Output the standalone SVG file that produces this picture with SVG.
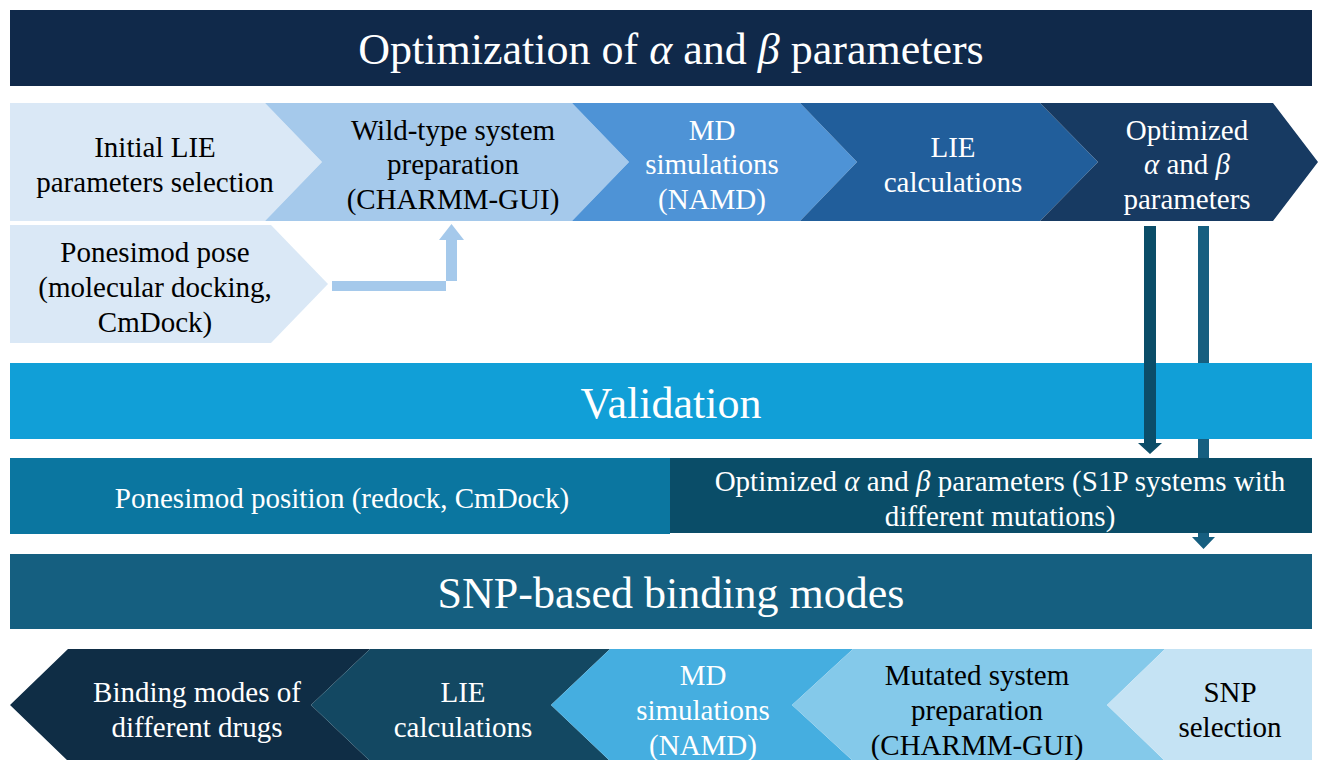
<svg xmlns="http://www.w3.org/2000/svg" width="1322" height="760" viewBox="0 0 1322 760">
<style>
text{font-family:"Liberation Serif",Tinos,"Noto Serif","DejaVu Serif",serif;text-anchor:middle}
.t{font-size:29px}
.h{font-size:44px;fill:#fff}
.w{fill:#fff}
.k{fill:#000}
.g{font-style:italic}
</style>
<rect width="1322" height="760" fill="#fff"/>
<g id="title"><rect x="10" y="10" width="1302" height="76" fill="#10294a"/>
<text class="h" x="671" y="64">Optimization of <tspan class="g">α</tspan> and <tspan class="g">β</tspan> parameters</text></g>

<g id="c1"><polygon points="10,103 265,103 322,162 265,221 10,221" fill="#dae8f6"/>
<text class="t k" x="155" y="157">Initial LIE</text><text class="t k" x="155" y="192">parameters selection</text></g>
<g id="c2"><polygon points="265,103 572,103 629,162 572,221 265,221 322,162" fill="#a5c9eb"/>
<text class="t k" x="453" y="140">Wild-type system</text><text class="t k" x="453" y="174">preparation</text><text class="t k" x="453" y="209">(CHARMM-GUI)</text></g>
<g id="c3"><polygon points="572,103 800,103 857,162 800,221 572,221 629,162" fill="#4e93d6"/>
<text class="t w" x="712" y="140">MD</text><text class="t w" x="712" y="174">simulations</text><text class="t w" x="712" y="209">(NAMD)</text></g>
<g id="c4"><polygon points="800,103 1040,103 1098,162 1040,221 800,221 857,162" fill="#215e9b"/>
<text class="t w" x="953" y="157">LIE</text><text class="t w" x="953" y="192">calculations</text></g>
<g id="c5"><polygon points="1040,103 1273,103 1318,162 1273,221 1040,221 1098,162" fill="#173a62"/>
<text class="t w" x="1187" y="140">Optimized</text><text class="t w" x="1187" y="174"><tspan class="g">α</tspan> and <tspan class="g">β</tspan></text><text class="t w" x="1187" y="209">parameters</text></g>
<g id="pose"><polygon points="10,225 271,225 328,284 271,343 10,343" fill="#dae8f6"/>
<text class="t k" x="155" y="262">Ponesimod pose</text><text class="t k" x="155" y="297">(molecular docking,</text><text class="t k" x="155" y="332">CmDock)</text></g>

<g id="validation"><rect x="10" y="363" width="1302" height="76" fill="#119fd7"/>
<text class="h" x="671" y="418">Validation</text></g>
<g id="redock"><rect x="10" y="458" width="660" height="76" fill="#0b76a0"/>
<text class="t w" x="342" y="508">Ponesimod position (redock, CmDock)</text></g>
<g id="optparams"><rect x="670" y="458" width="642" height="75" fill="#0a4d68"/>
<text class="t w" x="1000" y="491">Optimized <tspan class="g">α</tspan> and <tspan class="g">β</tspan> parameters (S1P systems with</text><text class="t w" x="1000" y="526">different mutations)</text></g>
<g id="snp-band"><rect x="10" y="554" width="1302" height="75" fill="#155f80"/>
<text class="h" x="671" y="608">SNP-based binding modes</text></g>

<g id="b1"><polygon points="10,705 68,649 370,649 311,705 370,761 68,761" fill="#0f2d45"/>
<text class="t w" x="197" y="702">Binding modes of</text><text class="t w" x="197" y="737">different drugs</text></g>
<g id="b2"><polygon points="311,705 370,649 610,649 551,705 610,761 370,761" fill="#134862"/>
<text class="t w" x="463" y="702">LIE</text><text class="t w" x="463" y="737">calculations</text></g>
<g id="b3"><polygon points="551,705 610,649 853,649 792,705 853,761 610,761" fill="#45aee0"/>
<text class="t w" x="703" y="685">MD</text><text class="t w" x="703" y="720">simulations</text><text class="t w" x="703" y="755">(NAMD)</text></g>
<g id="b4"><polygon points="792,705 853,649 1165,649 1107,705 1165,761 853,761" fill="#84c9ea"/>
<text class="t k" x="977" y="685">Mutated system</text><text class="t k" x="977" y="720">preparation</text><text class="t k" x="977" y="755">(CHARMM-GUI)</text></g>
<g id="b5"><polygon points="1107,705 1165,649 1312,649 1312,761 1165,761" fill="#c5e3f4"/>
<text class="t k" x="1230" y="702">SNP</text><text class="t k" x="1230" y="737">selection</text></g>

<g id="connectors">
<path d="M332,281 H457 V240 H464 L451.5,224 L439,240 H446 V291 H332 Z" fill="#a5c9eb"/>
<path d="M1144,226 H1156 V443 H1162 L1150,454 L1138,443 H1144 Z" fill="#0b4d68"/>
<rect x="1198" y="226" width="11" height="137" fill="#165f80"/>
<rect x="1198" y="439" width="11" height="19" fill="#165f80"/>
<path d="M1198,533 H1209 V537 H1215 L1203.5,549 L1192,537 H1198 Z" fill="#165f80"/>
</g>
</svg>
